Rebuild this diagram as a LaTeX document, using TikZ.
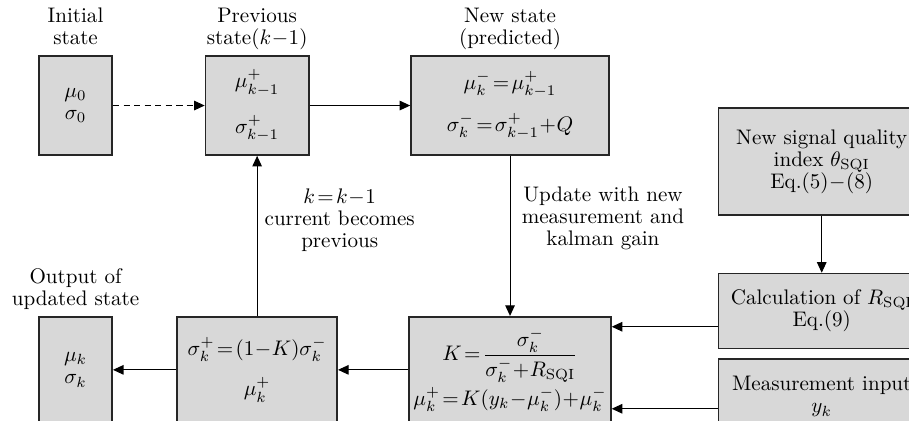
\documentclass[tikz,border=0pt]{standalone}
\usepackage{amsmath}
\usetikzlibrary{positioning, arrows.meta}
\definecolor{boxgray}{RGB}{216,216,216}
\thickmuskip=2mu
\medmuskip=0.5mu

\begin{document}
\begin{tikzpicture}[
  blk/.style={draw=black!85, fill=boxgray, line width=0.8pt, align=center,
    inner sep=2pt, font=\fontsize{10}{10.5}\selectfont},
  lbl/.style={align=center, font=\fontsize{10}{10.5}\selectfont},
  ttl/.style={lbl, text depth=0pt},
  arr/.style={-{Triangle[length=5pt,width=4.5pt]}, line width=0.5pt},
  node distance=2.67cm,
]
  \useasboundingbox (0,0) rectangle (15.16,-7.005);
  \clip (0,0) rectangle (15.16,-7.005);

  % top row
  \node[blk, minimum width=1.22cm, minimum height=1.65cm] (init) at (1.26,-1.76) {$\mu_0$\\$\sigma_0$};
  \node[blk, minimum width=1.72cm, minimum height=1.65cm, right=1.53cm of init] (prev) {$\mu^+_{k-1}$\\[8pt]$\sigma^+_{k-1}$};
  \node[blk, minimum width=3.30cm, minimum height=1.65cm, right=1.68cm of prev] (new) {$\mu^-_k=\mu^+_{k-1}$\\[6.5pt]$\sigma^-_k=\sigma^+_{k-1}+Q$};

  % bottom row
  \node[blk, minimum width=1.22cm, minimum height=1.77cm, below=of init] (out) {$\mu_k$\\$\sigma_k$};
  \node[blk, minimum width=2.67cm, minimum height=1.77cm, below=of prev] (sig) {$\sigma^+_k=(1-K)\sigma^-_k$\\[6.5pt]$\mu^+_k$};
  \node[blk, minimum width=3.30cm, minimum height=1.77cm, below=of new] (kal) {$K=\dfrac{\sigma^-_k}{\sigma^-_k+R_{\mathrm{SQI}}}$\\[1pt]$\mu^+_k=K(y_k-\mu^-_k)+\mu^-_k$};

  % right column
  \node[blk, minimum width=3.44cm, minimum height=1.78cm, anchor=north west] (sqi)
    at ([xshift=1.80cm, yshift=-0.87cm]new.north east) {New signal quality\\index $\theta_{\mathrm{SQI}}$\\Eq.$(5)-(8)$};
  \node[blk, minimum width=3.44cm, minimum height=1.25cm, below=0.95cm of sqi] (calc) {Calculation of $R_{\mathrm{SQI}}$\\Eq.$(9)$};
  \node[blk, minimum width=3.44cm, minimum height=1.25cm, below=0.15cm of calc] (meas) {Measurement input\\$y_k$};

  % titles
  \node[ttl, above=0.05cm of init] (tinit) {Initial\\state};
  \node[ttl, above=0.05cm of prev] (tprev) {Previous\\state$(k-1)$};
  \node[ttl, above=0.05cm of new] (tnew) {New state\\(predicted)};
  \node[ttl, above=0.05cm of out] (tout) {Output of\\updated state};

  \coordinate (kin1) at ([yshift=-0.18cm]kal.north east);
  \coordinate (kin2) at ([yshift=0.25cm]kal.south east);

  % connectors
  \draw[arr, dash pattern=on 3pt off 2pt] (init) -- (prev);
  \draw[arr] (prev) -- (new);
  \draw[arr] (new) -- node[lbl, pos=0.39, right, xshift=2pt] {Update with new\\measurement and\\kalman gain} (kal);
  \draw[arr] (sqi) -- (calc);
  \draw[arr] (calc.west |- kin1) -- (kin1);
  \draw[arr] (meas.west |- kin2) -- (kin2);
  \draw[arr] (kal) -- (sig);
  \draw[arr] (sig) -- (out);
  \draw[arr] (sig) -- node[lbl, pos=0.6, right] {$k=k-1$\\current becomes\\previous} (prev);
\end{tikzpicture}
\end{document}
